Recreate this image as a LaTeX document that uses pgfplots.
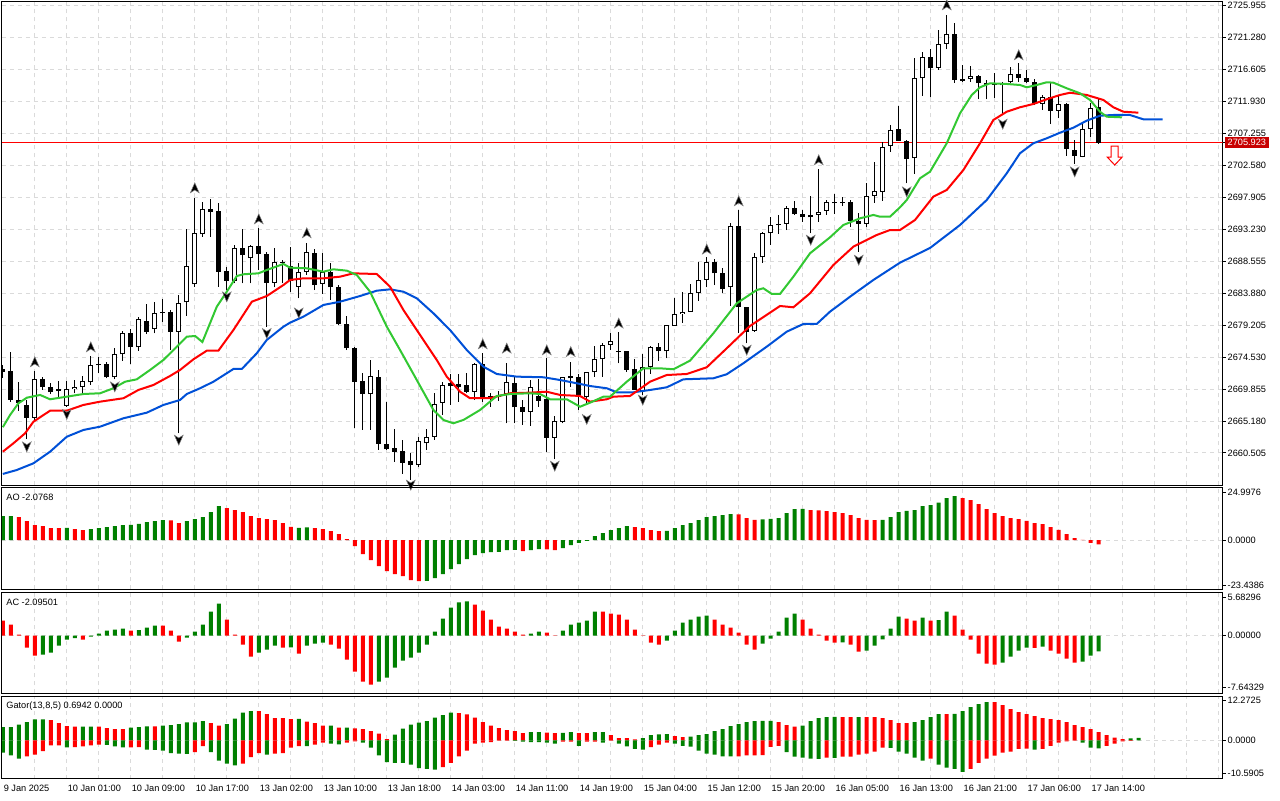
\documentclass[border=0pt]{standalone}
\usepackage{pgfplots}
\pgfplotsset{compat=1.18}
\usepackage{pgfplotstable}
\usepackage{fontspec}
\setmainfont{Liberation Sans}
\definecolor{gridc}{RGB}{218,218,218}
\definecolor{mtgreen}{RGB}{0,128,0}
\definecolor{mtred}{RGB}{255,0,0}
\definecolor{lips}{RGB}{50,200,50}
\definecolor{teeth}{RGB}{255,0,0}
\definecolor{jaw}{RGB}{0,80,215}
\definecolor{boxred}{RGB}{200,0,0}
\newcommand{\lab}{\fontsize{4.6}{5.5}\selectfont}

\pgfdeclareplotmark{fracup}{%
  \pgfpathmoveto{\pgfpoint{0pt}{2.6pt}}%
  \pgfpathlineto{\pgfpoint{2.2pt}{-2.4pt}}%
  \pgfpathlineto{\pgfpoint{0pt}{-1.0pt}}%
  \pgfpathlineto{\pgfpoint{-2.2pt}{-2.4pt}}%
  \pgfpathclose
  \pgfusepathqfillstroke}
\pgfdeclareplotmark{fracdown}{%
  \pgfpathmoveto{\pgfpoint{0pt}{-2.6pt}}%
  \pgfpathlineto{\pgfpoint{2.2pt}{2.4pt}}%
  \pgfpathlineto{\pgfpoint{0pt}{1.0pt}}%
  \pgfpathlineto{\pgfpoint{-2.2pt}{2.4pt}}%
  \pgfpathclose
  \pgfusepathqfillstroke}
\pgfdeclareplotmark{sigdown}{%
  \pgfpathmoveto{\pgfpoint{-1.75pt}{4.75pt}}%
  \pgfpathlineto{\pgfpoint{1.75pt}{4.75pt}}%
  \pgfpathlineto{\pgfpoint{1.75pt}{-0.75pt}}%
  \pgfpathlineto{\pgfpoint{3.75pt}{-0.75pt}}%
  \pgfpathlineto{\pgfpoint{0pt}{-4.75pt}}%
  \pgfpathlineto{\pgfpoint{-3.75pt}{-0.75pt}}%
  \pgfpathlineto{\pgfpoint{-1.75pt}{-0.75pt}}%
  \pgfpathclose
  \pgfusepathqfillstroke}

\pgfplotstableread{
i o h l c
4 2665.67 2672.50 2665.33 2671.28
7 2669.57 2671.04 2668.74 2669.82
8 2667.38 2671.04 2667.27 2669.82
9 2669.82 2671.18 2669.24 2670.20
10 2670.20 2671.77 2669.24 2671.04
11 2670.85 2674.70 2670.45 2673.38
14 2671.58 2675.82 2671.28 2674.94
15 2674.94 2678.39 2674.01 2678.06
17 2675.97 2680.45 2675.47 2680.07
19 2678.64 2682.55 2678.01 2680.94
22 2678.25 2683.62 2663.38 2682.49
23 2682.55 2693.23 2680.59 2687.91
24 2685.18 2697.77 2684.83 2692.65
25 2692.50 2697.18 2692.15 2696.16
29 2685.71 2690.94 2685.33 2690.45
31 2689.00 2690.94 2685.33 2690.79
34 2685.42 2690.45 2684.75 2688.41
37 2684.83 2688.26 2683.14 2687.03
38 2687.03 2691.27 2686.55 2689.87
40 2685.23 2689.72 2683.77 2687.03
46 2669.13 2674.11 2663.87 2671.77
52 2658.74 2662.88 2658.50 2662.30
53 2661.92 2664.01 2660.94 2662.80
54 2662.88 2669.24 2662.40 2667.67
55 2667.86 2670.93 2666.06 2670.45
59 2669.47 2673.63 2668.26 2673.48
61 2668.51 2669.24 2667.27 2668.84
63 2669.13 2673.63 2664.85 2670.85
66 2666.55 2671.18 2664.45 2670.20
69 2662.74 2665.92 2659.58 2665.18
70 2665.08 2671.67 2664.85 2671.58
73 2668.74 2672.40 2667.53 2672.31
74 2672.31 2676.16 2671.67 2674.21
75 2674.21 2676.55 2671.67 2676.26
76 2676.30 2678.01 2675.57 2676.93
80 2669.62 2674.99 2668.99 2673.13
81 2673.13 2676.16 2672.06 2675.97
83 2675.38 2679.23 2674.36 2679.23
84 2679.13 2683.14 2679.09 2680.84
85 2680.84 2684.01 2679.57 2681.18
86 2681.18 2685.19 2681.18 2683.87
87 2683.87 2688.49 2682.79 2685.82
88 2685.82 2689.14 2684.75 2688.41
91 2684.75 2694.20 2682.06 2693.72
94 2678.40 2689.72 2678.25 2689.14
95 2689.14 2692.88 2688.35 2692.65
96 2692.65 2694.99 2690.94 2693.86
98 2694.01 2696.64 2693.13 2696.30
101 2694.99 2698.11 2692.65 2695.28
102 2695.33 2702.02 2694.35 2695.81
103 2695.96 2697.52 2695.33 2697.27
108 2694.01 2699.97 2693.53 2698.15
109 2698.15 2703.13 2697.13 2698.80
110 2698.74 2706.05 2697.42 2705.32
111 2705.42 2708.50 2704.59 2707.77
114 2703.62 2718.26 2701.33 2715.33
115 2715.33 2719.22 2712.79 2718.40
117 2716.88 2722.40 2716.55 2720.31
118 2720.35 2724.59 2719.58 2721.81
121 2715.23 2717.13 2714.83 2715.71
126 2714.75 2717.03 2714.60 2715.96
130 2711.57 2712.89 2710.69 2712.55
132 2710.55 2712.89 2709.48 2711.57
135 2703.86 2708.64 2703.77 2707.87
136 2707.87 2711.76 2706.79 2710.94
}\bull

\pgfplotstableread{
i o h l c
0 2672.79 2673.38 2671.48 2672.35
1 2672.50 2675.32 2668.01 2668.26
2 2668.26 2670.85 2666.65 2667.75
3 2667.53 2668.26 2662.51 2665.67
5 2671.28 2671.58 2669.72 2670.12
6 2670.12 2670.70 2669.13 2669.47
12 2673.57 2674.59 2672.16 2673.33
13 2673.53 2673.86 2671.43 2671.58
16 2678.06 2678.64 2673.48 2675.97
18 2679.86 2682.26 2677.91 2678.25
20 2681.13 2683.04 2679.72 2680.94
21 2681.13 2681.43 2675.57 2678.25
26 2696.16 2697.62 2692.15 2695.81
27 2695.91 2697.04 2684.83 2687.03
28 2687.13 2687.76 2684.35 2685.71
30 2690.45 2693.23 2685.33 2689.47
32 2690.79 2693.37 2687.28 2689.57
33 2689.57 2689.95 2678.99 2685.42
35 2688.49 2688.74 2685.33 2688.26
36 2687.91 2690.69 2684.10 2685.71
39 2689.72 2690.31 2684.35 2685.08
41 2686.94 2688.35 2682.89 2684.75
42 2684.75 2685.08 2679.23 2679.33
43 2679.33 2680.59 2675.57 2675.82
44 2675.82 2676.06 2664.12 2670.93
45 2671.08 2672.16 2663.87 2669.13
47 2671.58 2672.65 2660.94 2661.82
48 2661.82 2668.01 2660.94 2661.04
49 2661.19 2663.97 2659.23 2660.69
50 2660.84 2662.40 2657.43 2659.08
51 2659.37 2660.46 2656.55 2658.74
56 2670.70 2672.06 2667.53 2670.30
57 2670.60 2672.06 2668.01 2670.20
58 2670.45 2672.16 2669.24 2669.47
60 2673.53 2675.18 2668.01 2668.65
62 2668.99 2669.57 2668.11 2668.70
64 2670.70 2671.67 2664.85 2667.19
65 2667.19 2668.26 2664.60 2666.55
67 2668.84 2671.28 2667.27 2668.16
68 2668.36 2674.36 2660.69 2662.74
71 2671.77 2673.86 2670.20 2671.43
72 2671.67 2672.06 2666.79 2668.74
77 2675.43 2678.25 2673.63 2675.28
78 2675.43 2675.43 2672.40 2672.65
79 2672.75 2674.21 2669.72 2669.72
82 2675.97 2676.64 2674.01 2675.38
89 2688.41 2688.84 2685.08 2686.79
90 2686.79 2687.53 2683.96 2684.45
92 2693.72 2696.06 2678.10 2681.82
93 2681.82 2681.91 2676.55 2678.25
97 2694.01 2695.33 2692.55 2693.82
99 2696.30 2697.38 2695.33 2695.43
100 2695.43 2696.06 2694.35 2694.99
104 2697.27 2698.40 2695.47 2697.04
105 2697.27 2697.91 2696.64 2697.04
106 2697.18 2697.52 2693.62 2694.49
107 2694.49 2695.66 2689.95 2694.01
112 2707.91 2711.28 2706.20 2706.20
113 2706.20 2706.30 2699.97 2703.52
116 2718.40 2719.62 2712.55 2716.79
119 2721.81 2723.38 2714.69 2715.08
120 2715.19 2717.28 2714.83 2714.94
122 2715.71 2715.81 2712.26 2714.60
123 2714.60 2715.08 2712.26 2714.35
124 2714.50 2716.11 2712.45 2714.35
125 2714.50 2714.83 2709.96 2714.28
127 2715.92 2717.53 2714.83 2715.42
128 2715.33 2716.55 2714.60 2714.75
129 2714.83 2715.23 2711.42 2711.57
131 2712.55 2714.60 2708.64 2710.55
133 2711.57 2711.67 2704.01 2704.99
134 2704.84 2706.30 2702.79 2704.01
137 2711.09 2712.26 2705.72 2705.923
}\bear

\pgfplotsset{
  mtbase/.style={
    scale only axis,
    anchor=south west,
    width=610.35pt,
    xmin=-0.1, xmax=152.5,
    axis line style={black, line width=0.5pt},
    xtick={4,8,...,152},
    xticklabels={},
    xtick style={draw=none},
    xtick pos=bottom,
    xmajorgrids,
    major grid style={gridc, dash pattern=on 2pt off 2pt, line width=0.5pt},
    ytick pos=right,
    tick align=outside,
    major tick length=1.5pt,
    ytick style={black, line width=0.5pt},
    tick label style={font=\lab},
    yticklabel style={anchor=west, inner sep=0pt, xshift=0.8pt},
  },
  zeroline/.style={gridc, dash pattern=on 2pt off 2pt, line width=0.5pt, forget plot},
  gbar/.style={ybar, bar width=0.5, bar shift=0pt, draw=none, fill=mtgreen},
  rbar/.style={ybar, bar width=0.5, bar shift=0pt, draw=none, fill=mtred},
}

\begin{document}
\begin{tikzpicture}
\path[use as bounding box] (0,0) rectangle (640pt,400pt);

% ---------------- main price panel ----------------
\begin{axis}[mtbase, at={(1pt,157.35pt)}, height=241.8pt,
  ymin=2655.77, ymax=2726.54,
  ytick={2660.505,2665.180,2669.855,2674.530,2679.205,2683.880,2688.555,2693.230,2697.905,2702.580,2707.255,2711.930,2716.605,2721.280,2725.955},
  yticklabels={2660.505,2665.180,2669.855,2674.530,2679.205,2683.880,2688.555,2693.230,2697.905,2702.580,2707.255,2711.930,2716.605,2721.280,2725.955},
  ymajorgrids,
  extra y ticks={2705.923},
  extra y tick labels={2705.923},
  extra y tick style={grid=none, yticklabel style={fill=boxred, text=white, inner xsep=1.5pt, inner ysep=1.1pt, xshift=-1.5pt}},
]
% current price line
\addplot[mtred, line width=0.5pt] coordinates {(-0.1,2705.923) (152.5,2705.923)};
% wicks
\addplot[draw=none, mark=none, error bars/.cd, y dir=plus, y explicit, error mark=none,
  error bar style={draw=black, solid, line width=0.5pt}]
  table[x=i, y=l, y error plus expr=\thisrow{h}-\thisrow{l}] {\bull};
\addplot[draw=none, mark=none, error bars/.cd, y dir=plus, y explicit, error mark=none,
  error bar style={draw=black, solid, line width=0.5pt}]
  table[x=i, y=l, y error plus expr=\thisrow{h}-\thisrow{l}] {\bear};
% bear bodies
\addplot[draw=none, mark=none, error bars/.cd, y dir=plus, y explicit, error mark=none,
  error bar style={draw=black, solid, line width=2.4pt}]
  table[x=i, y=c, y error plus expr=\thisrow{o}-\thisrow{c}] {\bear};
% bull bodies: outline then white inside
\addplot[draw=none, mark=none, error bars/.cd, y dir=plus, y explicit, error mark=none,
  error bar style={draw=black, solid, line width=2.4pt}]
  table[x=i, y=o, y error plus expr=\thisrow{c}-\thisrow{o}] {\bull};
\addplot[draw=none, mark=none, error bars/.cd, y dir=plus, y explicit, error mark=none,
  error bar style={draw=white, solid, line width=1.4pt}]
  table[x=i, y expr=\thisrow{o}+0.146, y error plus expr={max(\thisrow{c}-\thisrow{o}-0.293,0)}] {\bull};

% Alligator: jaw (blue), teeth (red), lips (green)
\addplot[jaw, line width=1pt] coordinates {
(0,2657.43) (1.75,2658.01) (3.83,2658.99) (5.91,2660.69) (8,2662.88) (10.08,2663.87) (12.16,2664.35) (15.08,2665.58) (18,2666.40) (20.08,2667.53) (22.16,2668.26) (23,2669.13) (24.66,2669.97) (26.33,2670.93) (28.83,2672.79) (29.88,2672.79) (31.75,2675.09) (33,2677.04) (35.08,2678.98) (35.91,2679.57) (37.58,2680.45) (40.08,2682.16) (42.16,2682.64) (44.66,2683.47) (46.75,2684.25) (48.41,2684.45) (50.08,2684.10) (51.75,2683.14) (53.83,2680.94) (55.91,2678.50) (58,2675.57) (60.08,2673.13) (61.75,2672.06) (64.25,2671.67) (67.58,2671.58) (69.66,2671.18) (71.75,2670.70) (73.41,2670.30) (75.5,2669.97) (76.75,2669.38) (78.83,2669.38) (80.91,2669.72) (83,2670.11) (85.08,2671.28) (88.83,2671.43) (90.5,2672.02) (92.58,2673.63) (95.5,2676.06) (98,2678.25) (100.08,2679.38) (101.75,2679.38) (103.41,2681.18) (105.91,2683.37) (108.83,2685.82) (112.16,2688.35) (115.91,2690.50) (119.66,2693.86) (123,2697.52) (125.5,2701.43) (127.16,2704.36) (128.83,2705.82) (130.5,2706.55) (132.16,2707.37) (133.83,2708.10) (135.5,2709.13) (137.16,2709.86) (138.83,2709.96) (140.91,2709.96) (142.58,2709.33) (145,2709.33)};
\addplot[teeth, line width=1pt] coordinates {
(0,2660.69) (1.33,2661.92) (2.79,2663.38) (3.83,2665.08) (5.91,2666.69) (8,2666.69) (10.08,2667.53) (12.16,2668.01) (15.08,2668.51) (16.95,2669.72) (18.83,2670.45) (20.91,2671.77) (22.16,2672.65) (23.83,2674.21) (25.5,2675.47) (26.95,2675.47) (28.83,2678.50) (31.13,2682.64) (33,2683.47) (35.08,2685.08) (35.91,2685.82) (37.58,2686.06) (40.08,2686.06) (42.16,2686.30) (43.83,2686.79) (46.75,2686.69) (48.41,2684.83) (50.08,2681.43) (52.58,2677.04) (54.25,2674.11) (55.5,2671.67) (57.16,2669.47) (58.41,2668.51) (60.91,2668.51) (63.41,2669.24) (65.91,2669.33) (68,2669.47) (69.66,2668.99) (72.16,2668.84) (73.41,2668.01) (75.5,2668.36) (76.33,2668.74) (78.41,2668.84) (80.91,2670.93) (83,2671.91) (85.5,2672.06) (88,2673.04) (90.5,2675.82) (93.41,2679.09) (97.16,2682.01) (98.83,2681.82) (100.91,2683.87) (103.83,2688.01) (106.33,2690.69) (109.25,2692.40) (110.91,2693.13) (112.16,2693.13) (114.04,2694.60) (116.33,2698.01) (118,2698.99) (120.08,2701.91) (122.16,2705.82) (123.83,2709.23) (125.5,2710.44) (127.16,2711.09) (128.83,2711.57) (130.5,2712.26) (132.16,2712.89) (133.41,2713.22) (135.5,2712.89) (137.58,2712.16) (138.83,2711.09) (140.08,2710.44) (141.95,2710.30)};
\addplot[lips, line width=1pt] coordinates {
(0,2664.27) (0.91,2666.06) (1.95,2667.77) (3,2668.59) (4.66,2668.99) (5.91,2668.36) (8,2668.74) (10.08,2669.13) (12.16,2669.24) (13.83,2669.97) (15.29,2670.93) (16.75,2671.28) (18.41,2672.65) (20.08,2674.11) (21.33,2675.57) (23,2677.52) (24.04,2677.62) (24.95,2676.74) (26.75,2681.91) (28,2684.10) (29.25,2686.40) (30.08,2686.65) (31.95,2686.79) (33,2687.28) (35.08,2688.16) (35.91,2687.62) (38,2687.53) (40.08,2687.03) (41.33,2687.38) (43,2687.18) (44.25,2686.55) (45.91,2684.10) (48,2678.99) (49.66,2675.57) (51.75,2671.18) (53.83,2666.79) (55.08,2665.33) (56.33,2664.85) (57.58,2665.33) (59.66,2666.79) (61.75,2668.84) (63.41,2669.13) (65.91,2669.24) (67.16,2669.13) (68.41,2668.36) (70.5,2668.36) (72.16,2667.27) (73.41,2667.86) (75.08,2668.74) (75.91,2668.74) (78,2670.93) (80.08,2672.89) (82.16,2672.89) (83.83,2672.75) (85.91,2674.01) (88.83,2678.01) (91.75,2682.40) (94.25,2684.35) (95.08,2684.60) (96.13,2683.77) (97.16,2683.77) (98.83,2686.30) (100.91,2689.72) (103.41,2692.06) (105.08,2693.86) (107.16,2694.84) (108.83,2695.33) (109.66,2695.08) (110.91,2695.08) (112.16,2696.45) (113,2697.52) (114.66,2700.70) (115.91,2701.66) (118,2705.82) (119.66,2710.20) (121.13,2712.89) (122.16,2714.01) (123.41,2714.60) (125.5,2714.50) (127.16,2714.35) (128,2714.01) (129.25,2714.35) (130.5,2714.75) (131.33,2714.69) (133,2713.87) (134.66,2713.14) (135.91,2712.16) (137.16,2710.44) (138,2709.71) (139.88,2709.62)};

% fractals
\addplot[only marks, mark=fracup, mark options={fill=black, draw=gray, line width=0.25pt}] coordinates {
(4,2673.82) (11,2676.01) (24,2699.28) (32,2694.74) (38,2692.70) (60,2676.45) (63,2675.82) (68,2675.57) (71,2675.32) (77,2679.48) (88,2690.31) (92,2697.38) (102,2703.38) (118,2726.06) (127,2718.74)};
\addplot[only marks, mark=fracdown, mark options={fill=black, draw=gray, line width=0.25pt}] coordinates {
(3,2661.42) (8,2666.17) (14,2670.20) (22,2662.40) (28,2683.37) (33,2678.01) (37,2681.01) (51,2655.82) (69,2658.60) (73,2665.43) (80,2668.26) (93,2675.57) (101,2691.67) (107,2688.74) (113,2698.74) (125,2708.64) (134,2701.66)};
% signal arrow
\addplot[only marks, mark=sigdown, mark options={fill=white, draw=mtred, line width=0.5pt}] coordinates {(139,2704.03)};
\end{axis}

% ---------------- AO panel ----------------
\begin{axis}[mtbase, at={(1pt,105.35pt)}, height=50.8pt,
  ymin=-23.4386, ymax=24.9976,
  ytick={-21.4,0,22.6}, yticklabels={-23.4386,0.0000,24.9976},
]
\addplot[zeroline] coordinates {(-0.1,0) (152.5,0)};
\addplot[gbar] coordinates {(0,11.46) (1,11.46) (8,5.89) (11,5.25) (12,5.73) (13,6.21) (14,6.69) (15,7.16) (16,7.32) (17,7.80) (18,8.60) (19,9.07) (20,9.55) (23,9.07) (24,10.03) (25,10.98) (26,13.37) (27,16.24) (37,5.89) (38,6.05) (53,-19.42) (54,-18.15) (55,-16.24) (56,-13.85) (57,-11.46) (58,-9.07) (59,-7.16) (60,-6.21) (61,-5.73) (62,-5.57) (63,-4.78) (64,-4.62) (66,-4.78) (67,-4.30) (70,-3.82) (71,-2.39) (72,-1.27) (73,-0.32) (74,1.91) (75,3.34) (76,4.78) (77,5.73) (78,6.69) (83,4.46) (84,5.73) (85,7.16) (86,8.12) (87,9.55) (88,10.98) (89,11.46) (90,11.94) (91,12.42) (95,9.87) (96,10.19) (97,10.51) (98,12.90) (99,14.81) (100,14.96) (110,9.71) (111,10.98) (112,13.37) (113,14.01) (114,14.33) (115,16.24) (116,16.72) (117,17.83) (118,20.06) (119,21.01)};
\addplot[rbar] coordinates {(2,10.98) (3,9.07) (4,7.16) (5,6.69) (6,5.73) (7,5.70) (9,5.25) (10,4.78) (21,9.47) (22,8.12) (28,15.28) (29,14.33) (30,13.37) (31,11.46) (32,10.51) (33,10.03) (34,9.55) (35,8.12) (36,6.30) (39,5.73) (40,5.25) (41,4.30) (42,2.87) (43,0.48) (44,-2.87) (45,-6.69) (46,-9.55) (47,-12.42) (48,-14.81) (49,-16.24) (50,-17.19) (51,-19.10) (52,-19.58) (65,-5.25) (68,-4.38) (69,-4.78) (79,6.21) (80,5.73) (81,4.78) (82,4.30) (92,12.34) (93,10.51) (94,9.71) (101,14.33) (102,14.25) (103,13.85) (104,13.37) (105,12.90) (106,11.94) (107,10.51) (108,9.71) (109,9.55) (120,20.06) (121,19.10) (122,17.19) (123,14.81) (124,12.90) (125,11.46) (126,10.51) (127,10.03) (128,9.23) (129,8.12) (130,7.64) (131,6.21) (132,4.94) (133,2.87) (134,0.96) (135,0.16) (136,-1.27) (137,-2.0768)};
\node[anchor=north west, inner sep=0pt, font=\lab] at (rel axis cs:0,1) [xshift=2pt, yshift=-2.8pt] {AO -2.0768};
\end{axis}

% ---------------- AC panel ----------------
\begin{axis}[mtbase, at={(1pt,53.35pt)}, height=50.3pt,
  ymin=-7.64329, ymax=5.68296,
  ytick={-6.81,0,5.11}, yticklabels={-7.64329,0.00000,5.68296},
]
\addplot[zeroline] coordinates {(-0.1,0) (152.5,0)};
\addplot[gbar] coordinates {(5,-2.53) (6,-2.26) (7,-1.33) (8,-0.53) (9,-0.35) (11,-0.13) (12,0.27) (13,0.66) (14,0.80) (15,0.93) (17,0.71) (18,1.06) (19,1.33) (23,-0.27) (24,0.53) (25,1.46) (26,3.19) (27,4.25) (32,-2.26) (33,-1.86) (34,-1.33) (36,-1.55) (38,-1.33) (39,-1.06) (40,-0.93) (47,-6.11) (48,-5.58) (49,-4.25) (50,-3.32) (51,-2.92) (52,-2.26) (53,-1.20) (54,0.53) (55,2.26) (56,3.72) (57,4.39) (58,4.52) (66,0.27) (67,0.53) (70,0.66) (71,1.46) (72,1.73) (73,1.99) (74,3.19) (83,-0.66) (84,0.66) (85,1.73) (86,2.13) (87,2.53) (88,2.66) (95,-1.06) (96,-0.40) (97,0.53) (98,2.39) (99,2.92) (105,-0.89) (108,-1.99) (109,-1.33) (110,-0.49) (111,0.93) (112,2.53) (115,2.39) (117,2.04) (118,3.19) (125,-3.59) (126,-2.79) (127,-1.99) (128,-1.59) (130,-1.46) (135,-3.46) (136,-2.66) (137,-2.09501)};
\addplot[rbar] coordinates {(0,1.99) (1,1.46) (2,0.13) (3,-1.59) (4,-2.66) (10,-0.53) (16,0.66) (20,1.31) (21,0.66) (22,-0.80) (28,2.13) (29,0.13) (30,-1.20) (31,-2.79) (35,-1.59) (37,-2.39) (41,-1.20) (42,-1.73) (43,-3.19) (44,-4.78) (45,-6.11) (46,-6.51) (59,4.12) (60,3.32) (61,2.13) (62,1.20) (63,0.93) (64,0.53) (65,0.13) (68,0.40) (69,-0.04) (75,3.17) (76,2.92) (77,2.79) (78,2.13) (79,0.80) (80,0.04) (81,-0.93) (82,-1.20) (89,2.13) (90,1.46) (91,1.06) (92,0.40) (93,-1.20) (94,-1.86) (100,2.13) (101,0.93) (102,0.13) (103,-0.66) (104,-0.93) (106,-1.20) (107,-2.13) (113,2.26) (114,1.99) (116,1.99) (119,2.66) (120,0.80) (121,-0.53) (122,-2.39) (123,-3.72) (124,-3.85) (129,-1.64) (131,-1.99) (132,-2.39) (133,-3.06) (134,-3.59)};
\node[anchor=north west, inner sep=0pt, font=\lab] at (rel axis cs:0,1) [xshift=2pt, yshift=-2.8pt] {AC -2.09501};
\end{axis}

% ---------------- Gator panel ----------------
\begin{axis}[mtbase, at={(1pt,10.65pt)}, height=41.35pt,
  ymin=-10.5905, ymax=12.2725,
  ytick={-9.21,0,10.97}, yticklabels={-10.5905,0.0000,12.2725},
  extra x ticks={0,8,16,24,32,40,48,56,64,72,80,88,96,104,112,120,128,136},
  extra x tick labels={9 Jan 2025,10 Jan 01:00,10 Jan 09:00,10 Jan 17:00,13 Jan 02:00,13 Jan 10:00,13 Jan 18:00,14 Jan 03:00,14 Jan 11:00,14 Jan 19:00,15 Jan 04:00,15 Jan 12:00,15 Jan 20:00,16 Jan 05:00,16 Jan 13:00,16 Jan 21:00,17 Jan 06:00,17 Jan 14:00},
  extra x tick style={grid=none, tick style={draw=black, line width=0.5pt}, tick label style={anchor=north west, inner sep=0pt, xshift=0.3pt, yshift=-1.4pt}},
]
\addplot[zeroline] coordinates {(-0.1,0) (152.5,0)};
\addplot[gbar] coordinates {(0,3.69) (1,3.69) (2,4.33) (3,5.07) (4,5.81) (5,5.83) (10,3.80) (11,3.82) (16,3.50) (17,3.69) (18,3.87) (20,4.06) (21,4.24) (22,4.52) (23,4.98) (24,5.00) (25,5.35) (28,4.52) (29,5.99) (30,7.65) (31,8.11) (37,5.92) (41,4.08) (43,3.52) (49,1.57) (50,3.23) (51,4.33) (52,4.89) (53,5.35) (54,6.27) (55,7.01) (56,7.65) (66,2.30) (67,2.32) (70,2.05) (71,2.30) (74,2.30) (75,2.32) (80,0.65) (81,1.48) (82,1.66) (83,1.75) (86,1.01) (87,1.48) (88,1.75) (89,2.58) (90,3.13) (91,3.96) (92,4.52) (93,5.07) (94,5.35) (95,5.37) (96,5.40) (100,4.06) (101,5.35) (102,6.18) (103,6.45) (104,6.47) (107,6.45) (114,5.07) (115,5.62) (116,6.45) (117,7.28) (119,7.30) (120,8.11) (121,9.22) (122,10.05) (123,10.60) (141,0.55) (142,0.6942)};
\addplot[rbar] coordinates {(6,5.62) (7,4.79) (8,3.96) (9,3.78) (12,3.78) (13,3.41) (14,3.13) (15,3.10) (19,3.85) (26,4.79) (27,4.06) (32,8.08) (33,7.28) (34,6.18) (35,6.16) (36,5.90) (38,5.16) (39,4.79) (40,4.06) (42,3.50) (44,3.32) (45,3.13) (46,2.58) (47,1.84) (48,0.37) (57,7.56) (58,7.19) (59,6.27) (60,5.07) (61,4.06) (62,3.41) (63,2.86) (64,2.58) (65,2.03) (68,2.12) (69,2.03) (72,2.03) (73,2.01) (76,1.48) (77,0.65) (78,0.63) (79,0.28) (84,1.20) (85,0.92) (97,5.07) (98,4.24) (99,3.78) (105,6.45) (106,6.43) (108,6.43) (109,6.41) (110,6.18) (111,5.62) (112,4.79) (113,4.77) (118,7.26) (124,10.58) (125,9.77) (126,8.67) (127,7.84) (128,7.28) (129,6.73) (130,6.18) (131,5.90) (132,5.62) (133,5.07) (134,4.24) (135,3.69) (136,3.13) (137,2.31) (138,1.48) (139,0.74) (140,0.37)};
\addplot[gbar] coordinates {(0,-3.41) (1,-4.15) (2,-5.07) (8,-1.94) (13,-1.22) (14,-1.66) (15,-1.94) (18,-2.58) (19,-2.60) (20,-2.86) (21,-3.50) (22,-3.69) (23,-3.72) (26,-3.23) (27,-5.62) (28,-6.45) (29,-6.92) (33,-3.96) (38,-1.60) (41,-0.92) (42,-1.11) (45,-0.65) (46,-2.03) (47,-4.15) (48,-5.99) (49,-6.18) (50,-6.20) (51,-6.73) (52,-7.65) (53,-7.84) (54,-8.11) (64,-0.12) (65,-0.37) (66,-0.45) (67,-0.50) (68,-0.65) (69,-0.92) (72,-1.48) (75,-0.65) (77,-0.92) (78,-1.66) (79,-2.31) (80,-2.58) (84,-0.92) (85,-1.48) (86,-1.75) (87,-2.86) (88,-3.69) (89,-3.96) (90,-4.43) (91,-4.45) (98,-3.23) (99,-4.52) (100,-4.79) (101,-5.07) (102,-5.09) (104,-4.81) (111,-2.05) (112,-3.13) (113,-3.69) (114,-4.79) (115,-5.62) (117,-6.73) (118,-7.56) (119,-7.84) (120,-8.67) (129,-2.58) (135,-0.65) (136,-2.03) (137,-2.21)};
\addplot[rbar] coordinates {(3,-4.43) (4,-3.96) (5,-2.95) (6,-1.38) (7,-1.36) (9,-1.84) (10,-1.66) (11,-1.38) (12,-1.20) (16,-1.90) (17,-1.85) (24,-3.23) (25,-1.57) (30,-6.45) (31,-4.61) (32,-3.50) (34,-3.69) (35,-3.50) (36,-2.03) (37,-1.57) (39,-1.20) (40,-0.65) (43,-0.65) (44,-0.28) (55,-7.38) (56,-6.18) (57,-4.43) (58,-2.86) (59,-0.92) (60,-0.65) (61,-0.46) (62,-0.09) (63,-0.08) (70,-0.37) (71,-0.35) (73,-0.37) (74,-0.35) (76,-0.05) (81,-1.84) (82,-1.20) (83,-0.65) (92,-4.40) (93,-4.15) (94,-4.12) (95,-4.10) (96,-1.80) (97,-1.48) (103,-4.79) (105,-4.52) (106,-4.50) (107,-3.96) (108,-3.69) (109,-3.13) (110,-2.03) (116,-5.07) (121,-7.84) (122,-6.18) (123,-5.07) (124,-4.24) (125,-3.41) (126,-3.13) (127,-2.31) (128,-2.29) (130,-2.31) (131,-1.48) (132,-0.65) (133,-0.28) (134,-0.09) (138,-1.48) (139,-0.92) (140,-0.28) (141,-0.10)};
\node[anchor=north west, inner sep=0pt, font=\lab] at (rel axis cs:0,1) [xshift=2pt, yshift=-2.6pt] {Gator(13,8,5) 0.6942 0.0000};
\end{axis}
\end{tikzpicture}
\end{document}
